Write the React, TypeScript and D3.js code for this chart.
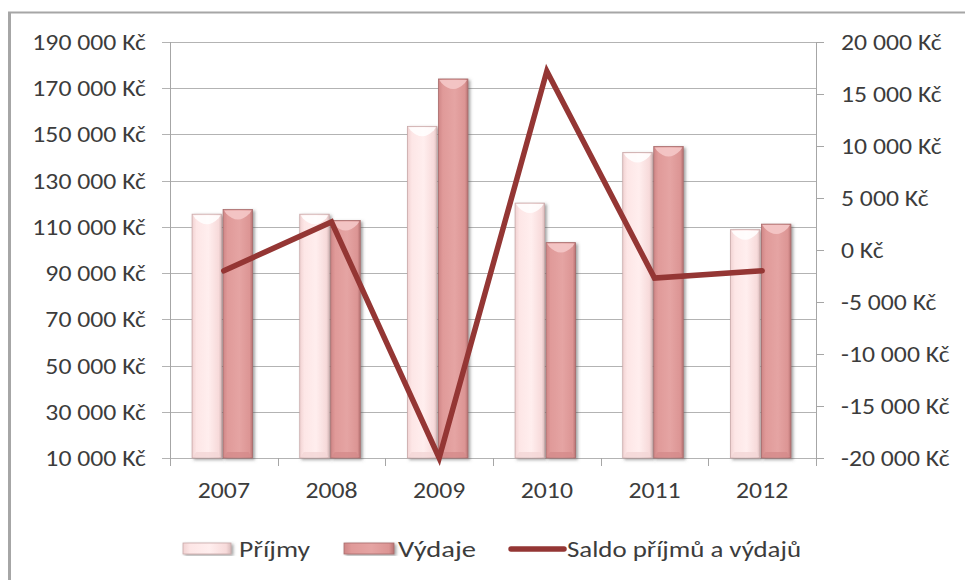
import React from "react";
import * as d3 from "d3";

const years = ["2007", "2008", "2009", "2010", "2011", "2012"];
const prijmy = [115500, 115500, 153500, 120300, 142200, 108800];
const vydaje = [117500, 112800, 174000, 103200, 144800, 111200];
const saldo = [-2000, 2700, -20000, 17200, -2700, -2000];
const leftTicks = [10000, 30000, 50000, 70000, 90000, 110000, 130000, 150000, 170000, 190000];
const rightTicks = [-20000, -15000, -10000, -5000, 0, 5000, 10000, 15000, 20000];
const seriesNames = ["Příjmy", "Výdaje", "Saldo příjmů a výdajů"];

const W = 965;
const H = 580;
const plot = { left: 170, right: 816, top: 42, bottom: 458 };
const FONT = "Carlito, Lato, 'Open Sans', sans-serif";
const TEXT = "#3c3c3c";
const LINE = "#943634";
const FS = 23;
const SX = 1.12;

const fmt = (v: number) => {
  const s = Math.abs(v).toString().replace(/\B(?=(\d{3})+(?!\d))/g, " ");
  return (v < 0 ? "-" : "") + s + " Kč";
};

export default function App() {
  const x = d3.scaleBand().domain(years).range([plot.left, plot.right]).paddingInner(0).paddingOuter(0);
  const yL = d3.scaleLinear().domain([10000, 190000]).range([plot.bottom, plot.top]);
  const yR = d3.scaleLinear().domain([-20000, 20000]).range([plot.bottom, plot.top]);
  const bw = 29.5;
  const gap = 1.5;
  const line = d3
    .line<number>()
    .x((_, i) => (x(years[i]) as number) + x.bandwidth() / 2)
    .y((d) => yR(d));

  const bar = (cx: number, v: number, kind: 0 | 1, key: string) => {
    const top = yL(v);
    const h = plot.bottom - top;
    const grad = kind === 0 ? "url(#gP)" : "url(#gV)";
    const hi = kind === 0 ? "#ffffff" : "#f6caca";
    return (
      <g key={key}>
        <rect x={cx} y={top} width={bw} height={h} fill={grad} stroke={kind === 0 ? "#c9a9a9" : "#a86c6c"} strokeWidth={0.8} filter="url(#sh)" />
        <path
          d={`M${cx + 1},${top + 1} L${cx + bw - 1},${top + 1} L${cx + bw - 3},${top + 4} Q${cx + bw / 2},${top + 16} ${cx + 3},${top + 4} Z`}
          fill={hi}
          opacity={0.85}
        />
        <path
          d={`M${cx + 1},${plot.bottom - 1} L${cx + bw - 1},${plot.bottom - 1} L${cx + bw - 4},${plot.bottom - 6} L${cx + 4},${plot.bottom - 6} Z`}
          fill={kind === 0 ? "#f3d6d6" : "#d48b8b"}
          opacity={0.8}
        />
      </g>
    );
  };

  return (
    <svg width={W} height={H} style={{ position: "absolute", left: 0, top: 0, background: "#fff" }} fontFamily={FONT}>
      <defs>
        <linearGradient id="gP" x1="0" x2="1" y1="0" y2="0">
          <stop offset="0" stopColor="#f1d2d2" />
          <stop offset="0.15" stopColor="#fde6e6" />
          <stop offset="0.55" stopColor="#ffeeee" />
          <stop offset="0.9" stopColor="#f7dada" />
          <stop offset="1" stopColor="#d9bcbc" />
        </linearGradient>
        <linearGradient id="gV" x1="0" x2="1" y1="0" y2="0">
          <stop offset="0" stopColor="#cf8686" />
          <stop offset="0.15" stopColor="#e09a99" />
          <stop offset="0.55" stopColor="#e5a4a3" />
          <stop offset="0.9" stopColor="#dc9594" />
          <stop offset="1" stopColor="#b87373" />
        </linearGradient>
        <filter id="sh" x="-30%" y="-10%" width="160%" height="120%">
          <feDropShadow dx="2" dy="1.5" stdDeviation="1.5" floodColor="#555" floodOpacity="0.55" />
        </filter>
      </defs>

      {/* outer border */}
      <line x1={9.5} x2={9.5} y1={12} y2={H} stroke="#a6a6a6" strokeWidth={3} />
      <line x1={8} x2={W} y1={12.5} y2={12.5} stroke="#a6a6a6" strokeWidth={2} />

      {/* gridlines */}
      {leftTicks.map((t) => (
        <line key={"g" + t} x1={plot.left - 8} x2={plot.right} y1={Math.round(yL(t)) + 0.5} y2={Math.round(yL(t)) + 0.5} stroke="#b3b3b3" strokeWidth={1} />
      ))}
      {/* axes */}
      <line x1={plot.left + 0.5} x2={plot.left + 0.5} y1={plot.top} y2={plot.bottom} stroke="#a6a6a6" />
      <line x1={plot.right + 0.5} x2={plot.right + 0.5} y1={plot.top} y2={plot.bottom + 8} stroke="#a6a6a6" />
      {rightTicks.map((t) => (
        <line key={"rt" + t} x1={plot.right} x2={plot.right + 8} y1={Math.round(yR(t)) + 0.5} y2={Math.round(yR(t)) + 0.5} stroke="#a6a6a6" />
      ))}
      {years.map((yr) => (
        <line key={"xt" + yr} x1={Math.round(x(yr) as number) + 0.5} x2={Math.round(x(yr) as number) + 0.5} y1={plot.bottom} y2={plot.bottom + 8} stroke="#a6a6a6" />
      ))}

      {/* bars */}
      {years.map((yr, i) => {
        const c = (x(yr) as number) + x.bandwidth() / 2;
        return (
          <g key={"b" + yr}>
            {bar(c - gap / 2 - bw - 1.5, prijmy[i], 0, "p" + yr)}
            {bar(c + gap / 2 - 1.5, vydaje[i], 1, "v" + yr)}
          </g>
        );
      })}

      {/* line */}
      <path d={line(saldo) || ""} fill="none" stroke={LINE} strokeWidth={5.5} strokeLinejoin="miter" strokeLinecap="round" />

      {/* left labels */}
      {leftTicks.map((t) => (
        <text key={"l" + t} transform={`translate(146,${yL(t)}) scale(${SX},1)`} dy="0.35em" textAnchor="end" fontSize={FS} fill={TEXT}>
          {fmt(t)}
        </text>
      ))}
      {rightTicks.map((t) => (
        <text key={"r" + t} transform={`translate(841,${yR(t)}) scale(${SX},1)`} dy="0.35em" textAnchor="start" fontSize={FS} fill={TEXT}>
          {fmt(t)}
        </text>
      ))}
      {years.map((yr) => (
        <text key={"x" + yr} transform={`translate(${(x(yr) as number) + x.bandwidth() / 2},498) scale(${SX},1)`} textAnchor="middle" fontSize={FS} fill={TEXT}>
          {yr}
        </text>
      ))}

      {/* legend */}
      <g>
        <rect x={183} y={543} width={48} height={11} fill="url(#gP)" stroke="#c9a9a9" strokeWidth={0.8} filter="url(#sh)" />
        <text x={239} y={557} fontSize={FS} fill={TEXT} textLength={71} lengthAdjust="spacingAndGlyphs">{seriesNames[0]}</text>
        <rect x={344} y={543} width={50} height={11} fill="url(#gV)" stroke="#a86c6c" strokeWidth={0.8} filter="url(#sh)" />
        <text x={398} y={557} fontSize={FS} fill={TEXT} textLength={78} lengthAdjust="spacingAndGlyphs">{seriesNames[1]}</text>
        <line x1={511} x2={564} y1={549} y2={549} stroke={LINE} strokeWidth={5.5} strokeLinecap="round" />
        <text x={567} y={557} fontSize={FS} fill={TEXT} textLength={234} lengthAdjust="spacingAndGlyphs">{seriesNames[2]}</text>
      </g>
    </svg>
  );
}
